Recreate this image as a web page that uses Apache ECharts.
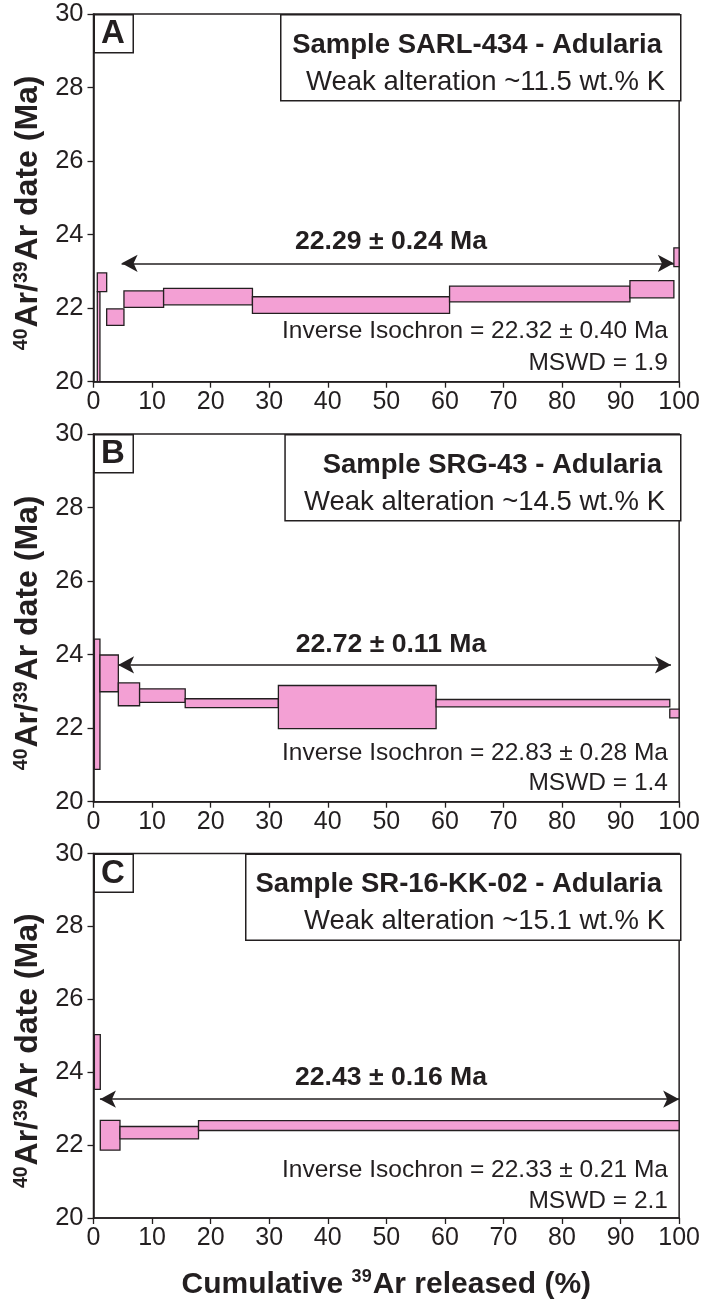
<!DOCTYPE html>
<html>
<head>
<meta charset="utf-8">
<script src="https://cdn.jsdelivr.net/npm/echarts@6/dist/echarts.min.js"></script>
<style>
  html, body { margin: 0; padding: 0; background: #fff; }
  #chart { width: 703px; height: 1301px; }
</style>
</head>
<body>
<div id="chart"></div>
<script>
// 40Ar/39Ar step-heating age spectra, three adularia samples.

// Panel A: SARL-434 (cumulative 39Ar % start/end, age band low/high in Ma)
const stepStartA = [0.65, 0.65, 2.25, 5.2, 11.97, 27.14, 60.8, 91.6, 99.1];
const stepEndA   = [1.1, 2.25, 5.2, 11.97, 27.14, 60.8, 91.6, 99.1, 100];
const ageLowA    = [19.0, 22.45, 21.53, 22.02, 22.09, 21.86, 22.17, 22.28, 23.13];
const ageHighA   = [22.45, 22.96, 21.98, 22.47, 22.54, 22.31, 22.60, 22.75, 23.64];

// Panel B: SRG-43
const stepStartB = [0.15, 1.1, 4.24, 7.87, 15.66, 31.57, 58.5, 98.4];
const stepEndB   = [1.1, 4.24, 7.87, 15.66, 31.57, 58.5, 98.4, 100];
const ageLowB    = [20.88, 22.99, 22.61, 22.70, 22.56, 21.99, 22.58, 22.28];
const ageHighB   = [24.42, 23.99, 23.23, 23.07, 22.80, 23.16, 22.78, 22.52];

// Panel C: SR-16-KK-02
const stepStartC = [0.15, 1.16, 4.52, 17.93];
const stepEndC   = [1.16, 4.52, 17.93, 100];
const ageLowC    = [23.53, 21.86, 22.17, 22.40];
const ageHighC   = [25.03, 22.68, 22.51, 22.67];

// Plateau extents (cumulative %) and the height of the plateau arrow (Ma)
const plateauFrom = [4.8, 4.2, 1.1];
const plateauTo   = [99.1, 98.6, 100];
const plateauArrowAge = [23.22, 23.72, 23.26];

// Annotation text
const panelLetters = ['A', 'B', 'C'];
const sampleNames = ['Sample SARL-434 - Adularia', 'Sample SRG-43 - Adularia', 'Sample SR-16-KK-02 - Adularia'];
const alterationNotes = ['Weak alteration ~11.5 wt.% K', 'Weak alteration ~14.5 wt.% K', 'Weak alteration ~15.1 wt.% K'];
const plateauAges = ['22.29 ± 0.24 Ma', '22.72 ± 0.11 Ma', '22.43 ± 0.16 Ma'];
const isochronAges = ['Inverse Isochron = 22.32 ± 0.40 Ma', 'Inverse Isochron = 22.83 ± 0.28 Ma', 'Inverse Isochron = 22.33 ± 0.21 Ma'];
const mswdValues = ['MSWD = 1.9', 'MSWD = 1.4', 'MSWD = 2.1'];

// Axis scales
const xTicks = { min: 0, max: 100, interval: 10 };
const yTicks = { min: 20, max: 30, interval: 2 };

const INK = '#231f20';
const PINK = '#f3a0d4';
const FONT = '"Liberation Sans", Arial, Helvetica, sans-serif';

const panels = [
  { start: stepStartA, end: stepEndA, low: ageLowA, high: ageHighA },
  { start: stepStartB, end: stepEndB, low: ageLowB, high: ageHighB },
  { start: stepStartC, end: stepEndC, low: ageLowC, high: ageHighC }
];

// layout
const gridLeft = 93.5, gridRight = 23, gridHeight = 367.7;
const gridTops = [14, 434, 853.5];
const sampleBoxLeft = [280, 284.3, 245];

function renderStep(params, api) {
  const p0 = api.coord([api.value(0), api.value(3)]);
  const p1 = api.coord([api.value(1), api.value(2)]);
  const cs = params.coordSys;
  const shape = echarts.graphic.clipRectByRect(
    { x: p0[0], y: p0[1], width: p1[0] - p0[0], height: p1[1] - p0[1] },
    { x: cs.x, y: cs.y, width: cs.width, height: cs.height }
  );
  return shape && {
    type: 'rect',
    shape: shape,
    style: { fill: PINK, stroke: INK, lineWidth: 1.3 }
  };
}

const grids = [], xAxes = [], yAxes = [], series = [], graphics = [];

panels.forEach((p, i) => {
  grids.push({
    left: gridLeft, right: gridRight, top: gridTops[i], height: gridHeight,
    show: true, borderColor: INK, borderWidth: 1.5, backgroundColor: 'transparent'
  });
  xAxes.push({
    gridIndex: i, type: 'value',
    min: xTicks.min, max: xTicks.max, interval: xTicks.interval,
    axisLine: { show: true, onZero: false, lineStyle: { color: INK, width: 1.5 } },
    axisTick: { show: true, inside: false, length: 6, lineStyle: { color: INK, width: 1.3 } },
    axisLabel: { color: INK, fontSize: 25, fontFamily: FONT, margin: 8 },
    splitLine: { show: false },
    name: i === 2 ? '{b|Cumulative }{s|39}{b|Ar released (%)}' : '',
    nameLocation: 'middle', nameGap: 50,
    nameTextStyle: {
      rich: {
        b: { fontSize: 30, fontWeight: 'bold', fontFamily: FONT, color: INK, lineHeight: 34 },
        s: { fontSize: 18, fontWeight: 'bold', fontFamily: FONT, color: INK, lineHeight: 34, verticalAlign: 'top', padding: [0, 1, 12, 0] }
      }
    }
  });
  yAxes.push({
    gridIndex: i, type: 'value',
    min: yTicks.min, max: yTicks.max, interval: yTicks.interval,
    axisLine: { show: true, onZero: false, lineStyle: { color: INK, width: 1.5 } },
    axisTick: { show: true, inside: false, length: 6, lineStyle: { color: INK, width: 1.3 } },
    axisLabel: { color: INK, fontSize: 25.5, fontFamily: FONT, margin: 10 },
    splitLine: { show: false },
    name: '{s|40}{b|Ar/}{s|39}{b|Ar date (Ma)}',
    nameLocation: 'middle', nameGap: 45, nameRotate: 90,
    nameTextStyle: {
      padding: [0, 30, 0, 0],
      rich: {
        b: { fontSize: 32, fontWeight: 'bold', fontFamily: FONT, color: INK, lineHeight: 34 },
        s: { fontSize: 19.5, fontWeight: 'bold', fontFamily: FONT, color: INK, lineHeight: 34, verticalAlign: 'top', padding: [0, 1, 12, 0] }
      }
    }
  });

  const data = p.start.map((s, k) => [s, p.end[k], p.low[k], p.high[k]]);
  series.push({
    type: 'custom',
    xAxisIndex: i, yAxisIndex: i,
    renderItem: renderStep,
    encode: { x: [0, 1], y: [2, 3] },
    data: data,
    silent: true,
    markLine: {
      silent: true,
      symbol: ['arrow', 'arrow'],
      symbolSize: [13, 16],
      label: { show: false },
      lineStyle: { color: INK, width: 1.5, type: 'solid' },
      itemStyle: { color: INK },
      data: [[
        { coord: [plateauFrom[i], plateauArrowAge[i]] },
        { coord: [plateauTo[i], plateauArrowAge[i]] }
      ]]
    }
  });

  const top = gridTops[i];
  // panel letter box
  graphics.push({
    type: 'rect', left: gridLeft, top: top,
    shape: { width: 39, height: 38 },
    style: { fill: '#fff', stroke: INK, lineWidth: 1.5 }, z: 10
  });
  graphics.push({
    type: 'text', x: gridLeft + 19.5, y: top + 20, z: 11,
    style: { text: panelLetters[i], fill: INK, font: 'bold 33px ' + FONT, textAlign: 'center', textVerticalAlign: 'middle' }
  });
  // sample description box
  graphics.push({
    type: 'rect', left: sampleBoxLeft[i], top: top,
    shape: { width: 680 - sampleBoxLeft[i], height: 86 },
    style: { fill: '#fff', stroke: INK, lineWidth: 1.5 }, z: 10
  });
  graphics.push({
    type: 'text', x: 662, y: top + 31, z: 11,
    style: { text: sampleNames[i], fill: INK, font: 'bold 27.5px ' + FONT, textAlign: 'right', textVerticalAlign: 'middle' }
  });
  graphics.push({
    type: 'text', x: 665, y: top + 68, z: 11,
    style: { text: alterationNotes[i], fill: INK, font: '27.5px ' + FONT, textAlign: 'right', textVerticalAlign: 'middle' }
  });
  // plateau age
  graphics.push({
    type: 'text', x: 391, y: top + [227.7, 211, 224.5][i], z: 11,
    style: { text: plateauAges[i], fill: INK, font: 'bold 26.6px ' + FONT, textAlign: 'center', textVerticalAlign: 'middle' }
  });
  // inverse isochron & MSWD
  graphics.push({
    type: 'text', x: 668, y: top + [317.7, 319, 316.5][i], z: 11,
    style: { text: isochronAges[i], fill: INK, font: '24.5px ' + FONT, textAlign: 'right', textVerticalAlign: 'middle' }
  });
  graphics.push({
    type: 'text', x: 668, y: top + [349.3, 349.3, 348.2][i], z: 11,
    style: { text: mswdValues[i], fill: INK, font: '24.5px ' + FONT, textAlign: 'right', textVerticalAlign: 'middle' }
  });
});

const chart = echarts.init(document.getElementById('chart'), null, { renderer: 'canvas' });
chart.setOption({
  animation: false,
  backgroundColor: '#fff',
  textStyle: { fontFamily: FONT },
  grid: grids,
  xAxis: xAxes,
  yAxis: yAxes,
  series: series,
  graphic: graphics
});
</script>
</body>
</html>
